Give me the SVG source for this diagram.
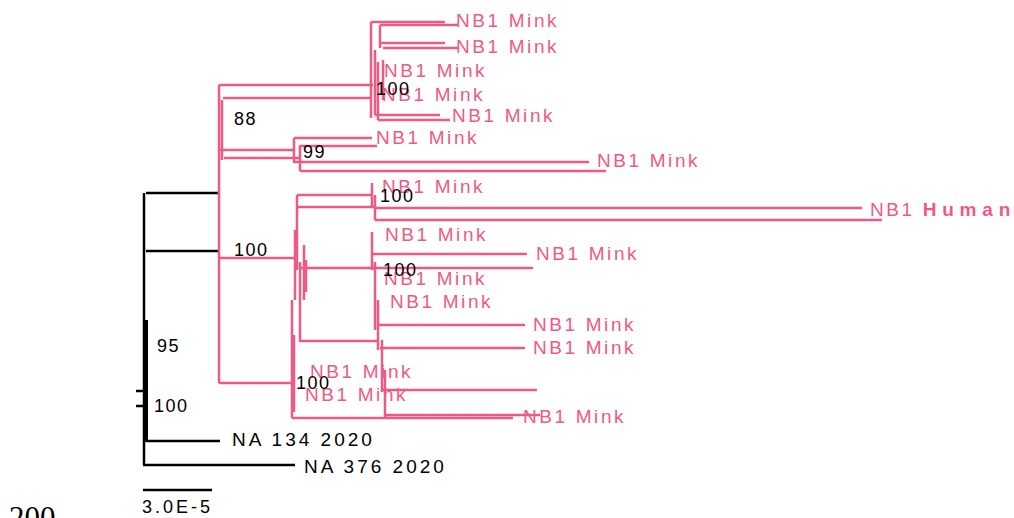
<svg xmlns="http://www.w3.org/2000/svg" width="1014" height="518" viewBox="0 0 1014 518">
<style>
.p{stroke:#ef5a84;stroke-width:2.5;fill:none}
.k{stroke:#000;stroke-width:2.5;fill:none}
.t{font-family:"Liberation Sans",Arial,sans-serif;font-size:19px;letter-spacing:2.6px;fill:#ef5a84}
.b{font-family:"Liberation Sans",Arial,sans-serif;font-size:18px;letter-spacing:1.5px;fill:#000}
.h{font-weight:bold;letter-spacing:5.8px}
</style>
<rect width="1014" height="518" fill="#fff"/>
<g id="connectors">
<g class="k">
<path d="M144 193V465M146 193H220M146 251H220M146 441H220M143 465H295M136 391H146M136 406H146"/>
<path d="M146 320V442" stroke-width="4"/>
<path d="M143 490H212"/>
</g>
<g class="p">
<path d="M219 85V383M222 100V160M219 85H373M223 98H370M219 150H294M224 158H300M219 258H297M219 383H292"/>
<path d="M371 22V118M371 22H445M380 25V48M380 25H458M380 43H445M383 48H458M375 50V115M378 62V120M375 115H440M378 120H450M383 60V100"/>
<path d="M294 138V163M300 145V171M294 138H372M300 146H377M294 162H589M300 171H606"/>
<path d="M297 195V270M295 230V300M300 262V342M292 300V418M294 335V412M297 195H372M297 207H375M372 183V208M375 195V220M375 208H862M375 220H882"/>
<path d="M372 232V270M372 254H527M300 268H533M375 262V330M378 300V350M377 325H525M300 341H378M380 348H525M382 340V392M385 370V418M383 390H537M385 415H540M292 418H513"/>
<path d="M304 245V300M306 260V292"/>
</g>
</g>
<g id="tips">
<text class="t" x="456" y="27">NB1 Mink</text>
<text class="t" x="456" y="53">NB1 Mink</text>
<text class="t" x="384" y="77">NB1 Mink</text>
<text class="t" x="382" y="101">NB1 Mink</text>
<text class="t" x="452" y="122">NB1 Mink</text>
<text class="t" x="376" y="144">NB1 Mink</text>
<text class="t" x="597" y="167">NB1 Mink</text>
<text class="t" x="382" y="193">NB1 Mink</text>
<text class="t" x="870" y="216">NB1 <tspan class="h">Human</tspan></text>
<text class="t" x="385" y="241">NB1 Mink</text>
<text class="t" x="536" y="260">NB1 Mink</text>
<text class="t" x="384" y="285">NB1 Mink</text>
<text class="t" x="390" y="308">NB1 Mink</text>
<text class="t" x="533" y="331">NB1 Mink</text>
<text class="t" x="533" y="354">NB1 Mink</text>
<text class="t" x="310" y="378">NB1 Mink</text>
<text class="t" x="305" y="401">NB1 Mink</text>
<text class="t" x="523" y="423">NB1 Mink</text>
<text class="b" x="232" y="446" style="font-size:19px;letter-spacing:3px">NA 134 2020</text>
<text class="b" x="304" y="473" style="font-size:19px;letter-spacing:3px">NA 376 2020</text>
</g>
<g id="support">
<text class="b" x="234" y="125">88</text>
<text class="b" x="303" y="158">99</text>
<text class="b" x="376" y="95">100</text>
<text class="b" x="380" y="202">100</text>
<text class="b" x="234" y="256">100</text>
<text class="b" x="383" y="276">100</text>
<text class="b" x="296" y="389">100</text>
<text class="b" x="157" y="352">95</text>
<text class="b" x="154" y="412">100</text>
</g>
<g id="scale">
<text class="b" x="142" y="513" style="letter-spacing:3px">3.0E-5</text>
<text x="9" y="528" font-family="Liberation Serif,serif" font-size="31">200</text>
</g>
</svg>
